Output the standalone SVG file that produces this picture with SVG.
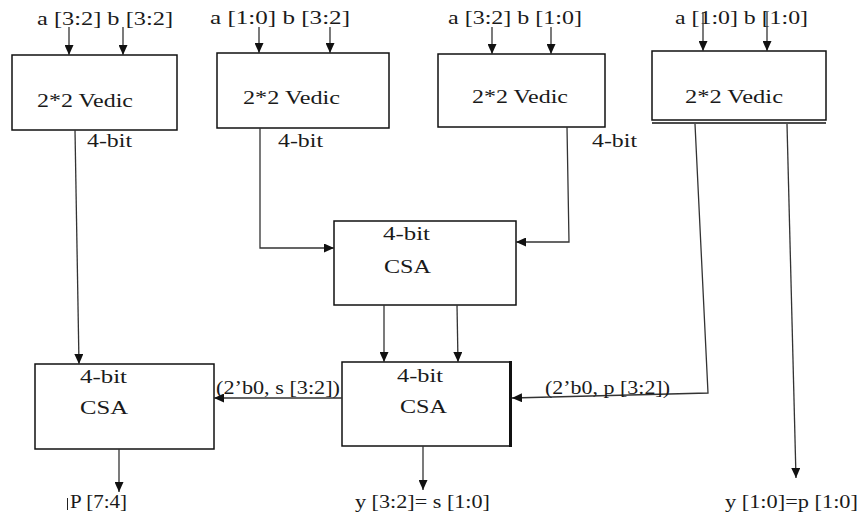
<svg xmlns="http://www.w3.org/2000/svg" width="858" height="521" viewBox="0 0 858 521">
  <style>
    .blk { fill: #ffffff; stroke: #111111; stroke-width: 1.5; }
    .lbl { font-family: 'Liberation Serif', 'Times New Roman', serif; font-size: 18px; fill: #1a1a1a; }
    .wire { fill: none; stroke: #333333; stroke-width: 1.3; }
    .arr { marker-end: url(#head); }
  </style>
  <defs>
    <marker id="head" markerUnits="userSpaceOnUse" markerWidth="10" markerHeight="9" refX="10" refY="4.5" orient="auto">
      <path d="M0,0 L10,4.5 L0,9 z" fill="#111111"/>
    </marker>
  </defs>
  <rect width="858" height="521" fill="#ffffff"/>

  <!-- input labels -->
  <g id="inputs">
    <text class="lbl" x="37" y="25" textLength="136" lengthAdjust="spacingAndGlyphs">a [3:2] b [3:2]</text>
    <text class="lbl" x="210" y="24" textLength="140" lengthAdjust="spacingAndGlyphs">a [1:0]  b [3:2]</text>
    <text class="lbl" x="448" y="24" textLength="134" lengthAdjust="spacingAndGlyphs">a [3:2] b [1:0]</text>
    <text class="lbl" x="675" y="24" textLength="133" lengthAdjust="spacingAndGlyphs">a [1:0] b [1:0]</text>
  </g>

  <!-- partial product multipliers -->
  <g id="vedic1">
    <rect class="blk" x="12" y="55" width="165" height="75"/>
    <text class="lbl" x="37" y="107" textLength="96" lengthAdjust="spacingAndGlyphs">2*2 Vedic</text>
  </g>
  <g id="vedic2">
    <rect class="blk" x="217" y="53" width="172" height="75"/>
    <text class="lbl" x="243" y="104" textLength="97" lengthAdjust="spacingAndGlyphs">2*2 Vedic</text>
  </g>
  <g id="vedic3">
    <rect class="blk" x="438" y="54" width="167" height="73"/>
    <text class="lbl" x="472" y="103" textLength="96" lengthAdjust="spacingAndGlyphs">2*2 Vedic</text>
  </g>
  <g id="vedic4">
    <rect class="blk" x="652" y="51" width="174" height="69"/>
    <line x1="652" y1="123" x2="826" y2="123" stroke="#111111" stroke-width="1.5"/>
    <text class="lbl" x="685" y="103" textLength="98" lengthAdjust="spacingAndGlyphs">2*2 Vedic</text>
  </g>

  <!-- carry-save adders -->
  <g id="csa1">
    <rect class="blk" x="334" y="221" width="182" height="84"/>
    <text class="lbl" x="383" y="240" textLength="47" lengthAdjust="spacingAndGlyphs">4-bit</text>
    <text class="lbl" x="384" y="273" textLength="47" lengthAdjust="spacingAndGlyphs">CSA</text>
  </g>
  <g id="csa2">
    <rect class="blk" x="342" y="362" width="168" height="84"/>
    <line x1="510.5" y1="361" x2="510.5" y2="447" stroke="#111111" stroke-width="3"/>
    <text class="lbl" x="397" y="382" textLength="46" lengthAdjust="spacingAndGlyphs">4-bit</text>
    <text class="lbl" x="400" y="413" textLength="47" lengthAdjust="spacingAndGlyphs">CSA</text>
  </g>
  <g id="csa3">
    <rect class="blk" x="35" y="364" width="179" height="85"/>
    <text class="lbl" x="80" y="383" textLength="47" lengthAdjust="spacingAndGlyphs">4-bit</text>
    <text class="lbl" x="80" y="414" textLength="48" lengthAdjust="spacingAndGlyphs">CSA</text>
  </g>

  <!-- signal wires -->
  <g id="connectors">
    <line class="wire arr" x1="69" y1="27" x2="69" y2="55"/>
    <line class="wire arr" x1="123" y1="27" x2="123" y2="55"/>
    <line class="wire arr" x1="259" y1="27" x2="259" y2="53"/>
    <line class="wire arr" x1="330" y1="27" x2="330" y2="53"/>
    <line class="wire arr" x1="492" y1="27" x2="492" y2="54"/>
    <line class="wire arr" x1="551" y1="27" x2="551" y2="54"/>
    <line class="wire arr" x1="703" y1="12" x2="703" y2="51"/>
    <line class="wire arr" x1="767" y1="12" x2="767" y2="51"/>

    <line class="wire arr" x1="75" y1="130" x2="79" y2="364"/>
    <polyline class="wire arr" points="260,128 260,248 334,248"/>
    <polyline class="wire arr" points="567,127 569,242 516,242"/>
    <polyline class="wire arr" points="695,124 708,393 512,398"/>
    <line class="wire arr" x1="787" y1="124" x2="796" y2="478"/>

    <line class="wire arr" x1="384" y1="305" x2="384" y2="362"/>
    <line class="wire arr" x1="457" y1="305" x2="458" y2="362"/>
    <line class="wire arr" x1="342" y1="398" x2="214" y2="398"/>
    <line class="wire arr" x1="119" y1="449" x2="119" y2="492"/>
    <line class="wire arr" x1="423" y1="446" x2="423" y2="490"/>
  </g>

  <!-- wire labels -->
  <g id="labels">
    <text class="lbl" x="87" y="147" textLength="45" lengthAdjust="spacingAndGlyphs">4-bit</text>
    <text class="lbl" x="278" y="147" textLength="45" lengthAdjust="spacingAndGlyphs">4-bit</text>
    <text class="lbl" x="592" y="147" textLength="45" lengthAdjust="spacingAndGlyphs">4-bit</text>
    <text class="lbl" x="216" y="394" textLength="124" lengthAdjust="spacingAndGlyphs">(2’b0, s [3:2])</text>
    <text class="lbl" x="545" y="394" textLength="125" lengthAdjust="spacingAndGlyphs">(2’b0, p [3:2])</text>
  </g>

  <!-- outputs -->
  <g id="outputs">
    <line x1="67.5" y1="498" x2="67.5" y2="510" stroke="#222222" stroke-width="1"/>
    <text class="lbl" x="70" y="508" textLength="57" lengthAdjust="spacingAndGlyphs">P [7:4]</text>
    <text class="lbl" x="355" y="508" textLength="135" lengthAdjust="spacingAndGlyphs">y [3:2]= s [1:0]</text>
    <text class="lbl" x="725" y="508" textLength="133" lengthAdjust="spacingAndGlyphs">y [1:0]=p [1:0]</text>
  </g>
</svg>
